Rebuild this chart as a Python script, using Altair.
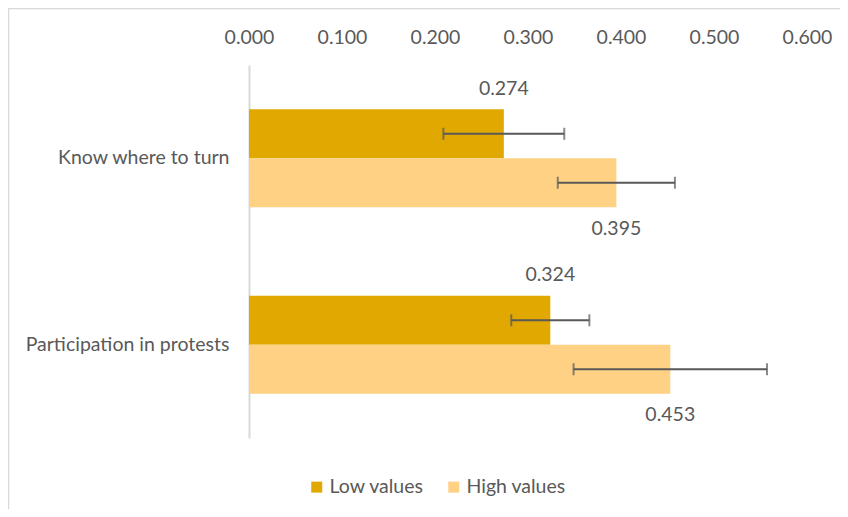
import altair as alt
import pandas as pd

categories = ["Know where to turn", "Participation in protests"]
groups = ["Low values", "High values"]
low_values = [0.274, 0.324]
high_values = [0.395, 0.453]
low_err = [0.065, 0.042]
high_err = [0.063, 0.104]
x_ticks = [0.0, 0.1, 0.2, 0.3, 0.4, 0.5, 0.6]

rows = []
for i, c in enumerate(categories):
    rows.append({"category": c, "group": groups[0], "value": low_values[i],
                 "lo": low_values[i] - low_err[i], "hi": low_values[i] + low_err[i]})
    rows.append({"category": c, "group": groups[1], "value": high_values[i],
                 "lo": high_values[i] - high_err[i], "hi": high_values[i] + high_err[i]})
df = pd.DataFrame(rows)

FONT = "Lato"
GRAY = "#595959"
FS = 19.5

y_enc = alt.Y("category:N", sort=categories,
              scale=alt.Scale(paddingInner=0.475, paddingOuter=0.2375),
              axis=alt.Axis(title=None, ticks=False, domainColor="#d9d9d9", domainWidth=2,
                            labelPadding=20, labelFontSize=FS, labelColor=GRAY, labelFont=FONT,
                            labelLimit=400))
yoff = alt.YOffset("group:N", sort=groups, scale=alt.Scale(domain=groups, paddingInner=0, paddingOuter=0))
x_scale = alt.Scale(domain=[0, 0.6], nice=False)

base = alt.Chart(df)

bars = base.mark_bar().encode(
    x=alt.X("value:Q", scale=x_scale,
            axis=alt.Axis(orient="top", title=None, values=x_ticks, format=".3f", domain=False,
                          ticks=False, grid=False, labelPadding=18, labelFontSize=FS,
                          labelColor=GRAY, labelFont=FONT, labelFlush=False, labelOverlap=False)),
    y=y_enc,
    yOffset=yoff,
    color=alt.Color("group:N", sort=groups,
                    scale=alt.Scale(domain=groups, range=["#E0A800", "#FFD185"]),
                    legend=alt.Legend(title=None, orient="none", legendX=58, legendY=412,
                                      direction="horizontal", symbolType="square", symbolSize=121,
                                      symbolStrokeWidth=0, labelFontSize=FS, labelColor=GRAY,
                                      labelFont=FONT, columnPadding=20, labelOffset=3)),
)

err_rule = base.mark_rule(color=GRAY, strokeWidth=2).encode(
    x="lo:Q", x2="hi:Q", y=alt.Y("category:N", sort=categories), yOffset=yoff)
cap_lo = base.mark_tick(color=GRAY, thickness=2, size=12).encode(
    x="lo:Q", y=alt.Y("category:N", sort=categories), yOffset=yoff)
cap_hi = base.mark_tick(color=GRAY, thickness=2, size=12).encode(
    x="hi:Q", y=alt.Y("category:N", sort=categories), yOffset=yoff)

lbl_low = base.transform_filter(alt.datum.group == groups[0]).mark_text(
    dy=-45, fontSize=FS, font=FONT, color=GRAY, align="center", baseline="middle").encode(
    x="value:Q", y=alt.Y("category:N", sort=categories), yOffset=yoff,
    text=alt.Text("value:Q", format=".3f"))
lbl_high = base.transform_filter(alt.datum.group == groups[1]).mark_text(
    dy=46, fontSize=FS, font=FONT, color=GRAY, align="center", baseline="middle").encode(
    x="value:Q", y=alt.Y("category:N", sort=categories), yOffset=yoff,
    text=alt.Text("value:Q", format=".3f"))

border = alt.Chart(pd.DataFrame({"a": [0]})).mark_rect(
    fill="transparent", stroke="#d9d9d9", strokeWidth=1.5).encode(
    x=alt.value(-240.5), x2=alt.value(600), y=alt.value(-56.5), y2=alt.value(460))

chart = alt.layer(border, bars, err_rule, cap_lo, cap_hi, lbl_low, lbl_high).properties(
    width=558, height=373,
    background="white",
    autosize=alt.AutoSizeParams(type="none"),
    padding={"left": 241, "top": 57, "right": 33, "bottom": 71},
).configure_view(strokeWidth=0, stroke="transparent")

chart.save("out.html", embed_options={"renderer": "svg", "actions": False})
